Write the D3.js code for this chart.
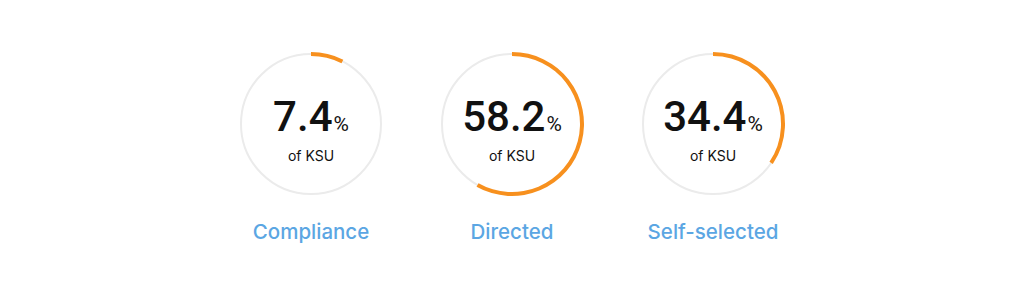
<!DOCTYPE html>
<html>
<head>
<meta charset="utf-8">
<script src="https://cdn.jsdelivr.net/npm/d3@7"></script>
<style>
  html, body { margin: 0; padding: 0; background: #fff; }
  svg { display: block; font-family: Inter, Roboto, sans-serif; }
</style>
</head>
<body>
<div class="ring-container"></div>
<script>
// data
const categories = ['Compliance', 'Directed', 'Self-selected'];
const shares = [7.4, 58.2, 34.4];
const subLabel = 'of KSU';

const chartData = categories.map((c, i) => ({ category: c, share: shares[i] }));

// main
function ready(data) {
    const width = 1024;
    const height = 299;
    const radius = 70;
    const ringY = 124;

    // x position of each ring
    const xScale = d3
        .scalePoint()
        .domain(data.map(d => d.category))
        .range([311, 713]);

    // percent -> angle, starting at 12 o'clock and going clockwise
    const angleScale = d3
        .scaleLinear()
        .domain([0, 100])
        .range([0, 2 * Math.PI]);

    const svg = d3.select('.ring-container')
        .append('svg')
        .attr('width', width)
        .attr('height', height);

    const rings = svg
        .selectAll('.ring')
        .data(data)
        .enter()
        .append('g')
            .attr('class', 'ring')
            .attr('transform', d => `translate(${xScale(d.category)}, ${ringY})`);

    // background circle
    rings
        .append('circle')
        .attr('r', radius)
        .attr('fill', 'none')
        .attr('stroke', '#ebebeb')
        .attr('stroke-width', 2);

    // value arc
    const arc = d3.arc()
        .innerRadius(radius - 2)
        .outerRadius(radius + 2)
        .startAngle(0)
        .endAngle(d => angleScale(d.share));

    rings
        .append('path')
        .attr('d', arc)
        .attr('fill', '#f7901e');

    // big number
    const value = rings
        .append('text')
        .attr('text-anchor', 'middle')
        .attr('y', 7)
        .attr('fill', '#111')
        .style('font-family', 'Roboto, sans-serif');

    value
        .append('tspan')
        .text(d => d3.format('.1f')(d.share))
        .attr('font-size', 42)
        .attr('font-weight', 500);

    value
        .append('tspan')
        .text('%')
        .attr('dx', 1)
        .attr('font-size', 21)
        .attr('font-weight', 400);

    // sub label
    rings
        .append('text')
        .attr('text-anchor', 'middle')
        .attr('y', 37)
        .attr('font-size', 14)
        .attr('fill', '#111')
        .text(subLabel);

    // category label
    rings
        .append('text')
        .attr('text-anchor', 'middle')
        .attr('y', 115)
        .attr('font-size', 20.5)
        .attr('font-weight', 500)
        .attr('fill', '#5ba6e3')
        .text(d => d.category);
}

ready(chartData);
</script>
</body>
</html>
